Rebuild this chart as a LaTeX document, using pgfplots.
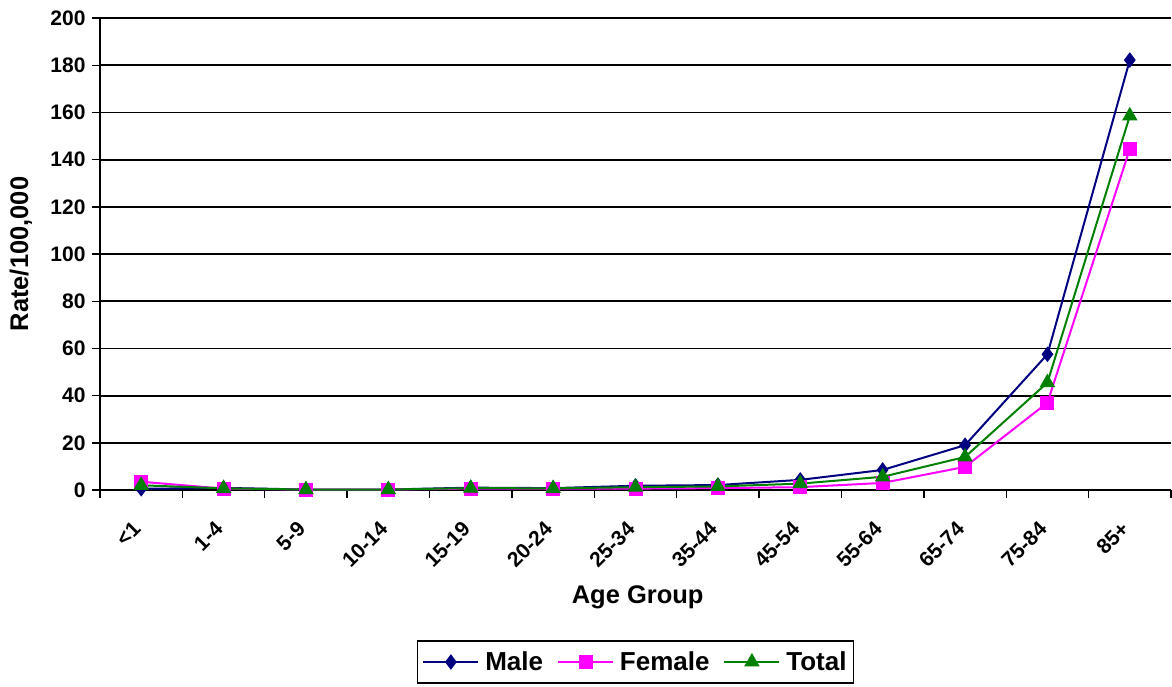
\documentclass[border=0pt]{standalone}
\usepackage{pgfplots}
\pgfplotsset{compat=1.18}
\usepackage{fontspec}
\setmainfont{Liberation Sans}
\definecolor{male}{RGB}{0,0,128}
\definecolor{female}{RGB}{255,0,255}
\definecolor{total}{RGB}{0,128,0}
\begin{document}
\begin{tikzpicture}[x=1pt,y=1pt]
\useasboundingbox (-100pt,-196pt) rectangle (1072pt,490pt);
\begin{axis}[
  at={(0pt,0pt)}, anchor=south west,
  scale only axis,
  width=1071pt, height=472pt,
  xmin=-0.5, xmax=12.5, ymin=0, ymax=200,
  axis x line*=bottom, axis y line*=left,
  axis line style={line width=1.8pt, -},
  ytick={0,20,...,200},
  ymajorgrids, grid style={black, line width=1.8pt},
  xtick={0,...,12},
  xticklabels={<1,1-4,5-9,10-14,15-19,20-24,25-34,35-44,45-54,55-64,65-74,75-84,85+},
  major x tick style={draw=none},
  minor xtick={-0.5,0.5,...,12.5},
  minor x tick style={black, line width=1.4pt},
  minor tick length=8pt,
  major tick length=8pt,
  y tick style={black, line width=1.4pt},
  tick align=outside,
  x tick label style={font=\fontsize{21}{23}\selectfont\bfseries, xshift=-2pt, yshift=-25pt, rotate=45, anchor=east},
  y tick label style={font=\fontsize{21}{23}\selectfont\bfseries, xshift=-3pt},
  /pgf/number format/assume math mode=true,
  xlabel={Age Group}, ylabel={Rate/100,000},
  label style={font=\fontsize{25.5}{28}\selectfont\bfseries},
  xlabel style={at={(axis description cs:0.502,-0.2267)}, anchor=center},
  ylabel style={at={(axis description cs:-0.0738,0.5)}, anchor=center, rotate=0},
  legend style={at={(0.5,-0.318)}, anchor=north, legend columns=3, draw=black, line width=1.4pt,
    font=\fontsize{26}{28}\selectfont\bfseries, inner xsep=5pt, inner ysep=9pt,
    /tikz/every odd column/.append style={column sep=4pt},
    /tikz/every even column/.append style={column sep=12pt}},
  legend image code/.code={\draw[#1, line width=1.8pt] (0pt,0pt) -- (55pt,0pt); \draw[#1, mark repeat=1] plot coordinates {(27.5pt,0pt)};},
]
\addplot[male, line width=2pt, mark=diamond*, mark size=7pt, mark options={fill=male, line width=1pt}] coordinates {
(0,0.5) (1,0.9) (2,0.2) (3,0.2) (4,1.0) (5,0.8) (6,1.8) (7,2.1) (8,4.3) (9,8.5) (10,19.0) (11,57.5) (12,182.2)};
\addplot[female, line width=2pt, mark=square*, mark size=6.5pt, mark options={fill=female, line width=1pt}] coordinates {
(0,3.5) (1,0.6) (2,0.2) (3,0.2) (4,0.6) (5,0.6) (6,0.6) (7,0.8) (8,1.2) (9,3.0) (10,9.8) (11,37.0) (12,144.5)};
\addplot[total, line width=2pt, mark=triangle*, mark size=8pt, mark options={fill=total, line width=1pt}] coordinates {
(0,2.0) (1,0.7) (2,0.2) (3,0.2) (4,0.8) (5,0.7) (6,1.2) (7,1.5) (8,2.7) (9,5.6) (10,14.0) (11,45.5) (12,158.5)};
\legend{Male,Female,Total}
\end{axis}
\end{tikzpicture}
\end{document}
